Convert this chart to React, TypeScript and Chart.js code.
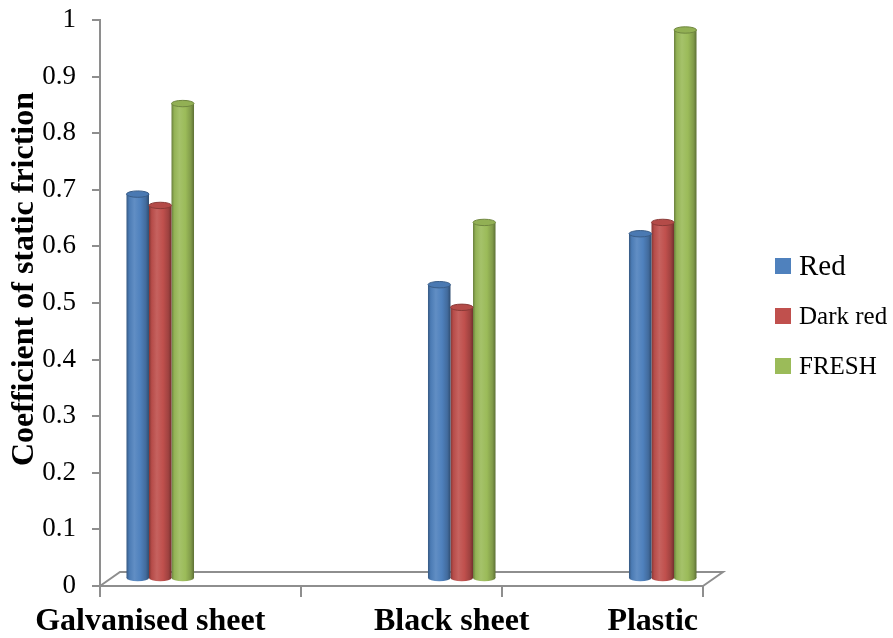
import React, { useEffect, useRef } from "react";
import { Chart, registerables } from "chart.js";

Chart.register(...registerables);

// ---- data ----
const categories = ["Galvanised sheet", "", "", "Black sheet", "", "Plastic"];
const redValues = [0.68, null, null, 0.52, null, 0.61];
const darkRedValues = [0.66, null, null, 0.48, null, 0.63];
const freshValues = [0.84, null, null, 0.63, null, 0.97];
const seriesNames = ["Red", "Dark red", "FRESH"];
const yAxisTitle = "Coefficient of static friction";

// ---- style ----
const SERIF = '"Liberation Serif", "Times New Roman", serif';
const COLORS = ["#4F81BD", "#C0504D", "#9BBB59"];
const AXIS = "#8E8E8E";
const CAT_PCT = 0.672;
const DEPTH_X = 10;
const DEPTH_Y = 7;
const LEGEND_FONT = [29, 25, 25];

function shade(hex: string, amt: number): string {
  const n = parseInt(hex.slice(1), 16);
  let r = (n >> 16) & 255;
  let g = (n >> 8) & 255;
  let b = n & 255;
  const t = amt < 0 ? 0 : 255;
  const p = Math.abs(amt);
  r = Math.round(r + (t - r) * p);
  g = Math.round(g + (t - g) * p);
  b = Math.round(b + (t - b) * p);
  return `rgb(${r},${g},${b})`;
}

function cylinderFill(c: CanvasRenderingContext2D, x0: number, x1: number, color: string) {
  const g = c.createLinearGradient(x0, 0, x1, 0);
  g.addColorStop(0, shade(color, -0.32));
  g.addColorStop(0.12, shade(color, -0.05));
  g.addColorStop(0.35, shade(color, 0.1));
  g.addColorStop(0.62, color);
  g.addColorStop(0.86, shade(color, -0.17));
  g.addColorStop(1, shade(color, -0.4));
  return g;
}

function barBackground(seriesIndex: number) {
  return (ctx: any) => {
    const chart = ctx.chart;
    const xs = chart.scales && chart.scales.x;
    if (!xs || ctx.type !== "data" || !chart.chartArea) return COLORS[seriesIndex];
    const slot = xs.width / categories.length;
    const w = (slot * CAT_PCT) / 3;
    const cx = xs.getPixelForValue(ctx.dataIndex) + (ctx.datasetIndex - 1) * w;
    return cylinderFill(chart.ctx, cx - w / 2, cx + w / 2, COLORS[seriesIndex]);
  };
}

const cylinderPlugin = {
  id: "cylinder3d",
  beforeDatasetsDraw(chart: any) {
    const { ctx, chartArea } = chart;
    const { left, right, bottom } = chartArea;
    // floor
    ctx.save();
    ctx.strokeStyle = AXIS;
    ctx.lineWidth = 2;
    ctx.beginPath();
    ctx.moveTo(left, bottom);
    ctx.lineTo(left + DEPTH_X * 2, bottom - DEPTH_Y * 2);
    ctx.lineTo(right + DEPTH_X * 2, bottom - DEPTH_Y * 2);
    ctx.lineTo(right, bottom);
    ctx.stroke();
    ctx.restore();
    ctx.save();
    ctx.translate(DEPTH_X, -DEPTH_Y);
  },
  afterDatasetsDraw(chart: any) {
    const { ctx } = chart;
    chart.data.datasets.forEach((ds: any, di: number) => {
      const meta = chart.getDatasetMeta(di);
      const color = COLORS[di];
      meta.data.forEach((el: any, i: number) => {
        if (ds.data[i] == null || !Number.isFinite(el.y)) return;
        const rx = el.width / 2;
        const ry = 3.2;
        // bottom
        ctx.beginPath();
        ctx.ellipse(el.x, el.base, rx, ry, 0, 0, Math.PI * 2);
        ctx.fillStyle = cylinderFill(ctx, el.x - rx, el.x + rx, color);
        ctx.fill();
        // top
        ctx.beginPath();
        ctx.ellipse(el.x, el.y, rx, ry, 0, 0, Math.PI * 2);
        ctx.fillStyle = shade(color, -0.06);
        ctx.fill();
        ctx.lineWidth = 1;
        ctx.strokeStyle = shade(color, -0.28);
        ctx.stroke();
      });
    });
    ctx.restore();
  },
  afterDraw(chart: any) {
    const { ctx, chartArea } = chart;
    // y axis title
    ctx.save();
    ctx.translate(25, (chartArea.top + chartArea.bottom) / 2 - 24);
    ctx.rotate(-Math.PI / 2);
    ctx.font = `bold 32px ${SERIF}`;
    ctx.fillStyle = "#000";
    ctx.textAlign = "center";
    ctx.textBaseline = "middle";
    ctx.fillText(yAxisTitle, 0, 0);
    ctx.restore();
    // legend
    ctx.save();
    const lx = chartArea.right + 72;
    seriesNames.forEach((name, i) => {
      const top = 258 + i * 50;
      ctx.fillStyle = COLORS[i];
      ctx.fillRect(lx, top, 16, 16);
      ctx.fillStyle = "#000";
      ctx.font = `${LEGEND_FONT[i]}px ${SERIF}`;
      ctx.textAlign = "left";
      ctx.textBaseline = "alphabetic";
      ctx.fillText(name, lx + 24, top + 17 - (i === 0 ? 0 : 1));
    });
    ctx.restore();
  },
};

export default function App() {
  const ref = useRef<HTMLCanvasElement | null>(null);
  useEffect(() => {
    if (!ref.current) return;
    const seriesData = [redValues, darkRedValues, freshValues];
    const chart = new Chart(ref.current, {
      type: "bar",
      data: {
        labels: categories,
        datasets: seriesData.map((d, i) => ({
          label: seriesNames[i],
          data: d as any,
          backgroundColor: barBackground(i) as any,
          borderWidth: 0,
          categoryPercentage: CAT_PCT,
          barPercentage: 1,
          clip: false as any,
        })),
      },
      options: {
        responsive: false,
        animation: false,
        layout: { padding: { top: 20, right: 190, left: 0, bottom: 0 } },
        plugins: { legend: { display: false }, tooltip: { enabled: false } },
        scales: {
          x: {
            type: "category",
            offset: true,
            grid: {
              offset: true,
              drawOnChartArea: false,
              drawTicks: true,
              tickLength: 11,
              lineWidth: 2,
              color: (c: any) =>
                c.index === undefined || c.index % 2 === 0 ? AXIS : "rgba(0,0,0,0)",
            },
            border: { display: true, color: AXIS, width: 2 },
            ticks: {
              autoSkip: false,
              maxRotation: 0,
              minRotation: 0,
              padding: 6,
              color: "#000",
              font: { family: SERIF, size: 32, weight: "bold" },
            },
            afterFit: (s: any) => {
              s.height = 52;
            },
          },
          y: {
            min: 0,
            max: 1,
            ticks: {
              stepSize: 0.1,
              padding: 16,
              color: "#000",
              font: { family: SERIF, size: 27 },
              callback: (v: any) => String(Math.round(Number(v) * 10) / 10),
            },
            grid: {
              drawOnChartArea: false,
              drawTicks: true,
              tickLength: 8,
              color: AXIS,
              lineWidth: 2,
            },
            border: { display: true, color: AXIS, width: 2 },
            afterFit: (s: any) => {
              s.width = 100;
              s.paddingTop = 12;
              s.paddingBottom = 12;
            },
          },
        },
      } as any,
      plugins: [cylinderPlugin],
    });
    return () => chart.destroy();
  }, []);
  return (
    <div style={{ position: "fixed", left: 0, top: 0, width: 893, height: 638, background: "#fff" }}>
      <canvas ref={ref} width={893} height={638} style={{ display: "block" }} />
    </div>
  );
}
